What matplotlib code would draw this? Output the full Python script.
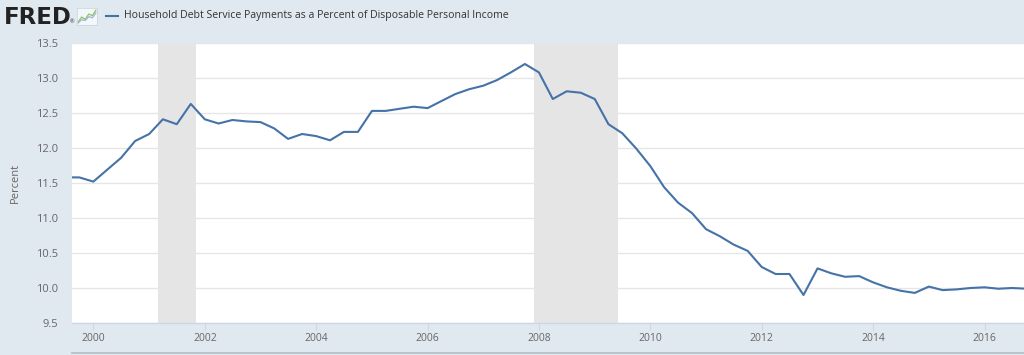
import matplotlib
matplotlib.use("Agg")
import matplotlib.pyplot as plt
import matplotlib.dates as mdates
from matplotlib.lines import Line2D
import pandas as pd
import datetime as dt

# ---- data (quarterly) ----
start_quarter = "1999Q3"
debt_service_pct = [
    11.58, 11.58,                      # 1999 Q3-Q4
    11.52, 11.69, 11.86, 12.10,        # 2000
    12.20, 12.41, 12.34, 12.63,        # 2001
    12.41, 12.35, 12.40, 12.38,        # 2002
    12.37, 12.28, 12.13, 12.20,        # 2003
    12.17, 12.11, 12.23, 12.23,        # 2004
    12.53, 12.53, 12.56, 12.59,        # 2005
    12.57, 12.67, 12.77, 12.84,        # 2006
    12.89, 12.97, 13.08, 13.20,        # 2007
    13.08, 12.70, 12.81, 12.79,        # 2008
    12.70, 12.34, 12.21, 11.99,        # 2009
    11.74, 11.44, 11.22, 11.07,        # 2010
    10.84, 10.74, 10.62, 10.53,        # 2011
    10.30, 10.20, 10.20, 9.90,         # 2012
    10.28, 10.21, 10.16, 10.17,        # 2013
    10.08, 10.01, 9.96, 9.93,          # 2014
    10.02, 9.97, 9.98, 10.00,          # 2015
    10.01, 9.99, 10.00, 9.99,          # 2016
]
recession_starts = ["2001-03-01", "2007-12-01"]
recession_ends = ["2001-11-01", "2009-06-01"]
tick_years = [2000, 2002, 2004, 2006, 2008, 2010, 2012, 2014, 2016]
y_ticks = [9.5, 10.0, 10.5, 11.0, 11.5, 12.0, 12.5, 13.0, 13.5]

title_text = "Household Debt Service Payments as a Percent of Disposable Personal Income"
y_label = "Percent"

dates = pd.period_range(start=start_quarter, periods=len(debt_service_pct), freq="Q").to_timestamp()

# ---- figure ----
W, H = 1024, 355
bg = "#e1e9f0"
fig = plt.figure(figsize=(W / 100, H / 100), dpi=100, facecolor=bg)
plt.rcParams["font.family"] = ["Open Sans", "DejaVu Sans"]

def box(x0, y0, x1, y1):
    return [x0 / W, 1 - y1 / H, (x1 - x0) / W, (y1 - y0) / H]

ax = fig.add_axes(box(72, 43, 1024, 323))
ax.set_facecolor("white")

for s, e in zip(recession_starts, recession_ends):
    ax.axvspan(pd.Timestamp(s), pd.Timestamp(e), color="#e5e5e5", lw=0, zorder=0)

ax.plot(dates, debt_service_pct, color="#4572a7", lw=1.5, zorder=3, solid_joinstyle="round")

ax.set_ylim(9.5, 13.5)
ax.set_yticks(y_ticks)
ax.set_yticklabels([f"{v:.1f}" for v in y_ticks])
ax.set_xlim(dt.datetime(1999, 8, 14), dt.datetime(2016, 9, 16))
ax.set_xticks([dt.datetime(y, 1, 1) for y in tick_years])
ax.set_xticklabels([str(y) for y in tick_years])

ax.grid(axis="y", color="#e6e6e6", lw=1.0, zorder=1)
ax.grid(axis="x", visible=False)
for side in ["top", "right", "left"]:
    ax.spines[side].set_visible(False)
ax.spines["bottom"].set_color("#ccd6eb")
ax.spines["bottom"].set_linewidth(1.0)

ax.tick_params(axis="y", length=0, pad=10, labelsize=8, labelcolor="#666666")
ax.tick_params(axis="x", length=5, width=0.8, color="#ccd6eb", pad=2,
               labelsize=7.5, labelcolor="#666666")

ax.set_ylabel(y_label, fontsize=8, color="#666666", labelpad=0, va="center")
ax.yaxis.set_label_coords(-(72 - 15) / (1024 - 72), 0.5)

# ---- header ----
fig.text(4 / W, 1 - 17.5 / H, "FRED", family="DejaVu Sans", weight="bold",
         fontsize=16.5, color="#222222", va="center", ha="left")
fig.text(70 / W, 1 - 22 / H, "®", fontsize=4, color="#222222", va="center", ha="left")

# small chart icon
iax = fig.add_axes(box(77, 8, 97, 25))
iax.set_facecolor("#f4f7f9")
iax.plot([0, 1, 2, 3, 4, 5], [0.5, 1.8, 1.2, 2.6, 2.2, 3.6], color="#8cc26c", lw=0.9)
iax.plot([0, 1, 2, 3, 4, 5], [0.2, 1.1, 0.9, 1.9, 1.6, 2.9], color="#9fb7cf", lw=0.9)
iax.set_xlim(-0.3, 5.3)
iax.set_ylim(-0.3, 4.2)
iax.set_xticks([])
iax.set_yticks([])
for sp in iax.spines.values():
    sp.set_color("#c8d3dc")
    sp.set_linewidth(0.5)

fig.add_artist(Line2D([106 / W, 118 / W], [1 - 15.5 / H] * 2, color="#4572a7", lw=1.5))
fig.text(124 / W, 1 - 15.5 / H, title_text, fontsize=7.6, color="#333333",
         va="center", ha="left")

# bottom navigator line
fig.add_artist(Line2D([72 / W, 1.0], [1 - 353 / H] * 2, color="#b5bcc3", lw=1.2))

fig.savefig("out.png", dpi=100, facecolor=bg)
